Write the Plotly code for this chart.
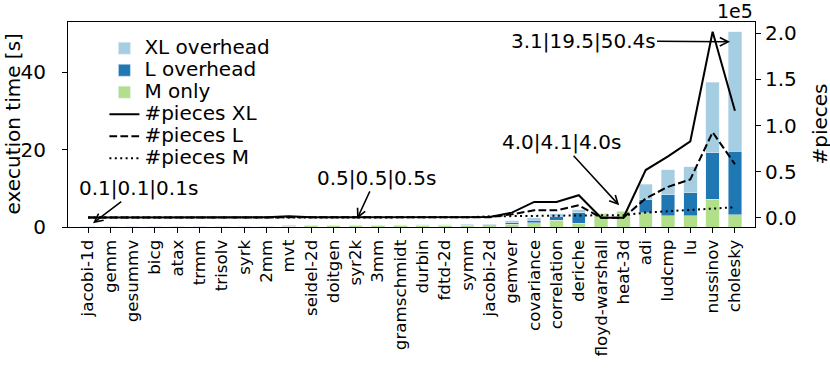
import plotly.graph_objects as go

# benchmark kernels
kernels = ["jacobi-1d", "gemm", "gesummv", "bicg", "atax", "trmm", "trisolv", "syrk",
           "2mm", "mvt", "seidel-2d", "doitgen", "syr2k", "3mm", "gramschmidt", "durbin",
           "fdtd-2d", "symm", "jacobi-2d", "gemver", "covariance", "correlation", "deriche",
           "floyd-warshall", "heat-3d", "adi", "ludcmp", "lu", "nussinov", "cholesky"]

# execution time [s] per piece size
time_m = [0.1, 0.1, 0.1, 0.1, 0.1, 0.1, 0.1, 0.1, 0.2, 0.15, 0.3, 0.3, 0.5, 0.4, 0.45,
          0.45, 0.5, 0.5, 0.55, 0.65, 1.1, 1.8, 1.0, 3.5, 4.0, 3.7, 2.9, 2.9, 7.2, 3.1]
time_l = [0.1, 0.1, 0.1, 0.1, 0.1, 0.1, 0.1, 0.1, 0.2, 0.35, 0.3, 0.3, 0.5, 0.4, 0.45,
          0.5, 0.5, 0.55, 0.6, 1.1, 1.7, 2.8, 3.7, 3.5, 4.1, 7.0, 8.3, 8.8, 19.2, 19.5]
time_xl = [0.1, 0.1, 0.1, 0.1, 0.1, 0.1, 0.1, 0.1, 0.2, 0.4, 0.3, 0.3, 0.5, 0.4, 0.5,
           0.6, 0.6, 0.65, 0.7, 1.6, 2.4, 3.4, 4.5, 3.5, 4.0, 11.0, 14.8, 15.5, 37.4, 50.4]

# number of pieces per size
pieces_xl = [300, 300, 300, 300, 300, 300, 300, 300, 400, 1500, 400, 400, 500, 400, 500,
             400, 500, 600, 700, 5500, 17100, 17100, 24400, 0, 0, 51700, 66500, 82900,
             201700, 116000]
pieces_l = [200, 200, 200, 200, 200, 200, 200, 200, 300, 1000, 300, 300, 400, 300, 400,
            300, 400, 500, 500, 3600, 8000, 8000, 13500, 0, 0, 21000, 33500, 41500,
            92700, 58000]
pieces_m = [100, 100, 100, 100, 100, 100, 100, 100, 200, 600, 200, 200, 300, 200, 300,
            200, 300, 400, 1500, 1800, 2200, 2200, 2600, 2600, 2600, 5500, 7000, 8400,
            10200, 11300]

# callouts: (kernel index, label)
callouts = [(0, "0.1|0.1|0.1s"), (12, "0.5|0.5|0.5s"), (24, "4.0|4.1|4.0s"),
            (29, "3.1|19.5|50.4s")]

FONT = dict(family="DejaVu Sans", size=20, color="black")
TICK_FONT = dict(family="DejaVu Sans", size=16.7, color="black")
COLORS = {"xl": "#a6cee3", "l": "#1f78b4", "m": "#b2df8a"}


def legend_label(text):
    # large text, but keep the tight row pitch of the legend
    return f"<span style='font-size:20px'>{text}</span>"


l_over = [max(0.0, b - a) for a, b in zip(time_m, time_l)]
xl_over = [max(0.0, c - max(a, b)) for a, b, c in zip(time_m, time_l, time_xl)]

fig = go.Figure()
fig.add_trace(go.Bar(x=kernels, y=time_m, name=legend_label("M only"),
                     marker_color=COLORS["m"], width=0.6, legendrank=3))
fig.add_trace(go.Bar(x=kernels, y=l_over, name=legend_label("L overhead"),
                     marker_color=COLORS["l"], width=0.6, legendrank=2))
fig.add_trace(go.Bar(x=kernels, y=xl_over, name=legend_label("XL overhead"),
                     marker_color=COLORS["xl"], width=0.6, legendrank=1))

for vals, name, dash, rank in [(pieces_xl, "#pieces XL", "solid", 4),
                               (pieces_l, "#pieces L", "7.7px,3.3px", 5),
                               (pieces_m, "#pieces M", "2px,3.4px", 6)]:
    fig.add_trace(go.Scatter(x=kernels, y=vals, name=legend_label(name), yaxis="y2",
                             mode="lines", line=dict(color="black", width=2, dash=dash),
                             legendrank=rank))

# arrow heads (x offset, y value) and text offsets in pixels
heads = {0: (0.22, 1.0, 46, -35), 12: (0.06, 2.1, 19, -41),
         24: (-0.19, 5.6, -58, -63), 29: (-0.22, 47.8, -147, -1)}
annotations = []
for idx, label in callouts:
    dx, yv, ax, ay = heads[idx]
    annotations.append(dict(x=idx + dx, y=yv, xref="x", yref="y", text=label,
                            showarrow=True, ax=ax, ay=ay, arrowhead=5, arrowsize=1.1,
                            arrowwidth=1.5, arrowcolor="black", font=FONT))

annotations += [
    dict(text="execution time [s]", textangle=-90, xref="paper", yref="paper", x=0, y=0.5,
         xanchor="center", yanchor="middle", xshift=-56, showarrow=False, font=FONT),
    dict(text="#pieces", textangle=-90, xref="paper", yref="paper", x=1, y=0.5,
         xanchor="center", yanchor="middle", xshift=64, showarrow=False, font=FONT),
    dict(text="1e5", xref="paper", yref="paper", x=1, y=1, xanchor="right",
         yanchor="bottom", showarrow=False, font=dict(FONT, size=19), yshift=-2),
]

fig.update_layout(
    width=830, height=384,
    barmode="stack",
    plot_bgcolor="white", paper_bgcolor="white",
    font=FONT,
    margin=dict(l=68, r=75, t=22, b=157),
    showlegend=True,
    legend=dict(x=0.053, y=0.95, xanchor="left", yanchor="top", bgcolor="rgba(0,0,0,0)",
                font=dict(FONT, size=14.6), itemwidth=30, traceorder="normal"),
    xaxis=dict(range=[-0.9, 29.9], tickangle=-90, ticks="outside", ticklen=5,
               tickcolor="black", showline=True, linecolor="black", linewidth=1.1,
               mirror=True, showgrid=False, tickfont=TICK_FONT),
    yaxis=dict(range=[0, 52.92], tickvals=[0, 20, 40], ticks="outside", ticklen=5,
               tickcolor="black", showline=True, linecolor="black", linewidth=1.1,
               mirror=True, showgrid=False, zeroline=False, tickfont=FONT,
               ticklabelstandoff=12),
    yaxis2=dict(range=[-10100, 212300], overlaying="y", side="right",
                tickvals=[0, 50000, 100000, 150000, 200000],
                ticktext=["0.0", "0.5", "1.0", "1.5", "2.0"], ticks="outside", ticklen=5,
                tickcolor="black", showgrid=False, zeroline=False, showline=False,
                tickfont=FONT),
    annotations=annotations,
)

# drop the default page margin so the figure sits at the window's corner
fig.write_html("out.html", config={"displayModeBar": False},
               post_script="document.body.style.margin='0';")
